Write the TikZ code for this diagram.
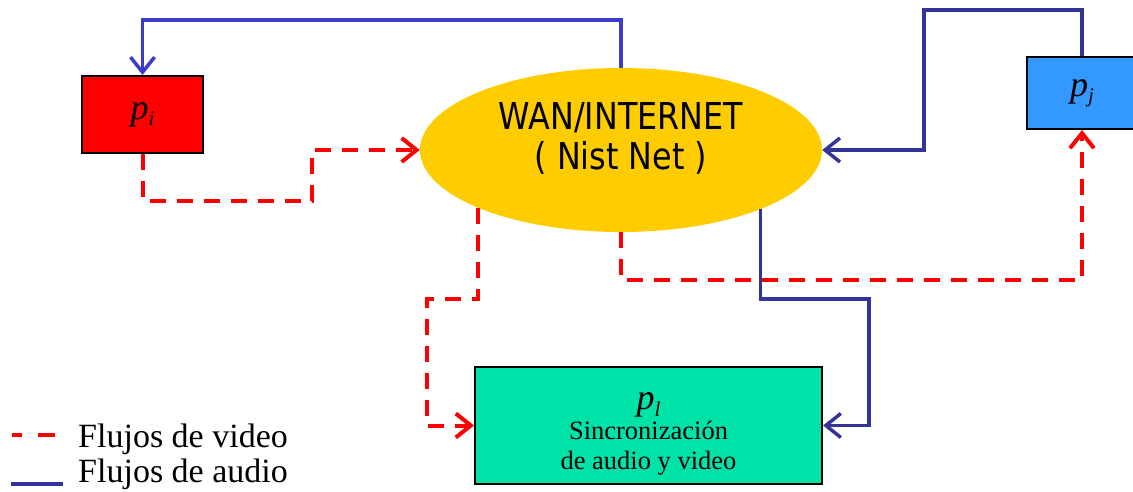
\documentclass[tikz,border=0pt]{standalone}
\usepackage{fontspec}
\setmainfont{Liberation Serif}
\newfontfamily\wanfont{DejaVu Sans}
\usetikzlibrary{arrows.meta,shapes.geometric}
\definecolor{vred}{HTML}{FF0000}
\definecolor{ablue}{HTML}{333399}
\definecolor{tblue}{HTML}{3C3CCC}
\definecolor{piRed}{HTML}{FF0000}
\definecolor{pjBlue}{HTML}{3399FF}
\definecolor{plGreen}{HTML}{00E3A8}
\definecolor{wanYellow}{HTML}{FFCC00}
\newcommand{\psub}[2]{{\fontsize{36}{38}\selectfont\itshape #1\raisebox{-0.18em}{\fontsize{21}{21}\selectfont #2}}}
\tikzset{
  procbox/.style={draw=black, line width=2pt, inner sep=0pt},
  tipv/.style={-{Straight Barb[length=15pt,width=24pt]}},
  video/.style={draw=vred, line width=4pt, dash pattern=on 16pt off 11pt, tipv},
  audio/.style={draw=ablue, line width=3.5pt, tipv},
}
\begin{document}
\begin{tikzpicture}[x=1pt,y=-1pt]
\useasboundingbox (0,0) rectangle (1133,492);
\fill[white] (0,0) rectangle (1133,492);
% nodes
\node[procbox, fill=piRed, minimum width=121pt, minimum height=77pt] (pi) at (142.5,114.5) {\psub{p}{i}};
\node[procbox, fill=pjBlue, minimum width=110pt, minimum height=72pt] (pj) at (1082,93) {\psub{p}{j}};
\node[procbox, fill=plGreen, minimum width=347pt, minimum height=117pt, align=center,
      font=\fontsize{26.5}{30}\selectfont] (pl) at (648.5,425.5)
  {\rule{0pt}{34pt}\psub{p}{l}\\ Sincronización\\ de audio y video};
\node[ellipse, fill=wanYellow, minimum width=402pt, minimum height=164pt, inner sep=0pt,
      align=center, font=\wanfont\fontsize{37}{40}\selectfont] (wan) at (621,150)
  {\scalebox{0.86}[1]{WAN/INTERNET}\\ \scalebox{0.86}[1]{( Nist Net )}\rule[-28pt]{0pt}{28pt}};
% bend coordinates
\coordinate (ttop) at (400,20);
\coordinate (c1) at (312,201);
\coordinate (r1) at (924,10);
\coordinate (r2) at (900,280);
\coordinate (r3) at (427,299);
\coordinate (r4) at (869,299);
% connectors
\draw[audio, draw=tblue] (wan.north) |- (ttop) -| (pi.north);
\draw[video] (pi.south) |- (c1) |- (wan.west);
\draw[audio] (pj.north) |- (r1) |- (wan.east);
\draw[video] (wan.south) |- (r2) -| (pj.south);
\draw[video] (wan.202.4) |- (r3) |- (pl.west);
\draw[audio] (wan.337.8) |- (r4) |- (pl.east);
% legend
\draw[vred, line width=4pt, dash pattern=on 10pt off 16pt on 17pt off 100pt] (12,435) -- (55,435);
\draw[ablue, line width=3.5pt] (11,484) -- (63,484);
\node[anchor=base west, inner sep=0pt, font=\fontsize{34}{36}\selectfont] (lv) at (78,447) {Flujos de video};
\node[anchor=base west, inner sep=0pt, font=\fontsize{34}{36}\selectfont] (la) at (78,482) {Flujos de audio};
\end{tikzpicture}
\end{document}
